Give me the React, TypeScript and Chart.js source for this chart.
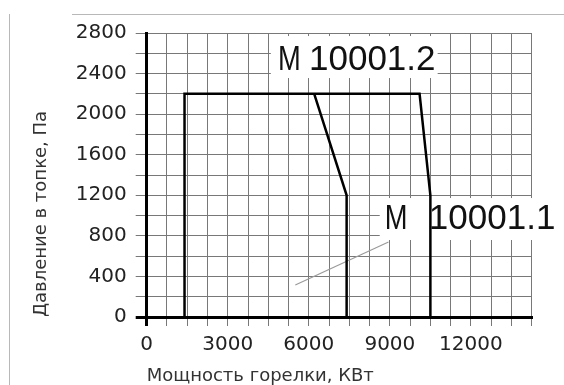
import React, { useEffect, useRef } from "react";
import { Chart, registerables } from "chart.js";

Chart.register(...registerables);

// Burner working fields (power kW, furnace pressure Pa)
const outerX = [1400, 1400, 10100, 10500, 10500];
const outerY = [0, 2200, 2200, 1200, 0];
const innerX = [6200, 7400, 7400];
const innerY = [2200, 1200, 0];
const leaderX = [5500, 8950];
const leaderY = [315, 740];

const xLabeled = [0, 3000, 6000, 9000, 12000];
const yLabeled = [0, 400, 800, 1200, 1600, 2000, 2400, 2800];

const labelTexts = ["M", "10001.2", "M", "10001.1"];
const labelX = [4860, 6007, 8815, 10444];
const labelY = [2435, 2435, 868, 868];
const labelStretch = [0.78, 1, 0.78, 1];

const boxX0 = [4595, 8625];
const boxX1 = [10769, 16500];
const boxY0 = [2356, 759];
const boxY1 = [2770, 1173];

const toPoints = (xs: number[], ys: number[]) => xs.map((x, i) => ({ x, y: ys[i] }));

const annotate = {
  id: "annotate",
  beforeDatasetsDraw(chart: any) {
    const { ctx, scales } = chart;
    const x = scales.x;
    const y = scales.y;
    ctx.save();
    ctx.fillStyle = "#ffffff";
    for (let i = 0; i < boxX0.length; i++) {
      const l = x.getPixelForValue(boxX0[i]);
      const r = x.getPixelForValue(boxX1[i]);
      const t = y.getPixelForValue(boxY1[i]);
      const b = y.getPixelForValue(boxY0[i]);
      ctx.fillRect(l, t, r - l, b - t);
    }
    ctx.restore();
  },
  afterDatasetsDraw(chart: any) {
    const { ctx, scales } = chart;
    const x = scales.x;
    const y = scales.y;
    for (let i = 0; i < labelTexts.length; i++) {
      ctx.save();
      ctx.fillStyle = "#111111";
      ctx.font = '35px "Liberation Sans", Arial, sans-serif';
      ctx.textAlign = "left";
      ctx.textBaseline = "alphabetic";
      ctx.translate(x.getPixelForValue(labelX[i]), y.getPixelForValue(labelY[i]));
      ctx.scale(labelStretch[i], 1);
      ctx.fillText(labelTexts[i], 0, 0);
      ctx.restore();
    }
  },
};

function ChartView() {
  const ref = useRef<HTMLCanvasElement | null>(null);
  useEffect(() => {
    if (!ref.current) return;
    const tickFont = { family: '"DejaVu Sans", sans-serif', size: 20 };
    const titleFont = { family: '"DejaVu Sans", sans-serif', size: 18, lineHeight: 1 };
    const gridColor = (c: any) => (c.tick && c.tick.value === 0 ? "#000000" : "#787878");
    const gridWidth = (c: any) => (c.tick && c.tick.value === 0 ? 3 : 1);
    const chart = new Chart(ref.current, {
      type: "scatter",
      data: {
        datasets: [
          {
            label: "M 10001.1",
            data: toPoints(outerX, outerY),
            showLine: true,
            borderColor: "#000000",
            borderWidth: 2.5,
            pointRadius: 0,
            tension: 0,
          },
          {
            label: "M 10001.2",
            data: toPoints(innerX, innerY),
            showLine: true,
            borderColor: "#000000",
            borderWidth: 2.5,
            pointRadius: 0,
            tension: 0,
          },
          {
            label: "leader",
            data: toPoints(leaderX, leaderY),
            showLine: true,
            borderColor: "#9a9a9a",
            borderWidth: 1.2,
            pointRadius: 0,
            tension: 0,
          },
        ],
      },
      options: {
        responsive: false,
        maintainAspectRatio: false,
        animation: false,
        devicePixelRatio: 1,
        layout: { padding: { left: 0, top: 33, right: 32.3, bottom: 0 } },
        plugins: { legend: { display: false }, tooltip: { enabled: false } },
        scales: {
          x: {
            type: "linear",
            min: 0,
            max: 14250,
            afterFit: (s: any) => {
              s.height = 68;
            },
            ticks: {
              stepSize: 750,
              autoSkip: false,
              maxRotation: 0,
              padding: 7,
              color: "#222222",
              font: tickFont,
              callback: (v: any) => (xLabeled.includes(Number(v)) ? String(v) : ""),
            },
            grid: { color: gridColor, lineWidth: gridWidth, tickLength: 9 },
            border: { display: true, color: "#000000", width: 3 },
            title: {
              display: true,
              text: "Мощность горелки, КВт",
              align: "start",
              color: "#333333",
              font: titleFont,
              padding: { top: 0, bottom: 0 },
            },
          },
          y: {
            type: "linear",
            min: 0,
            max: 2800,
            afterFit: (s: any) => {
              s.width = 146.7;
            },
            ticks: {
              stepSize: 200,
              autoSkip: false,
              padding: 9,
              color: "#222222",
              font: tickFont,
              callback: (v: any) => (yLabeled.includes(Number(v)) ? String(v) : ""),
            },
            grid: { color: gridColor, lineWidth: gridWidth, tickLength: 11 },
            border: { display: true, color: "#000000", width: 3 },
            title: {
              display: true,
              text: "Давление в топке, Па",
              align: "start",
              color: "#333333",
              font: titleFont,
              padding: { top: 32.5, bottom: 0 },
            },
          },
        },
      },
      plugins: [annotate],
    } as any);
    return () => chart.destroy();
  }, []);
  return <canvas ref={ref} width={564} height={385} style={{ display: "block" }} />;
}

export default function App() {
  return (
    <div style={{ position: "absolute", left: 0, top: 0, width: 564, height: 385, background: "#fff", overflow: "hidden" }}>
      <ChartView />
      <div style={{ position: "absolute", left: 9, top: 14, width: 1, height: 371, background: "#b8b8b8" }} />
      <div style={{ position: "absolute", left: 72, top: 14, width: 492, height: 1, background: "#b8b8b8" }} />
    </div>
  );
}
